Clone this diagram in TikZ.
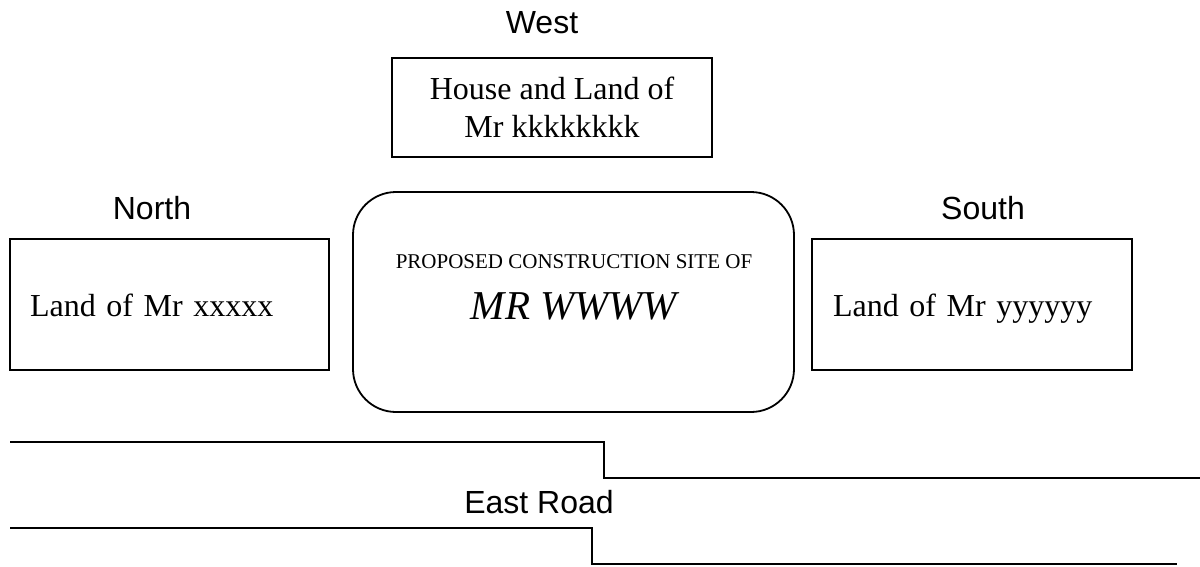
\documentclass[tikz,border=0pt]{standalone}
\usepackage{fontspec}
\setmainfont{Liberation Serif}
\newfontfamily\compassfont{Liberation Sans}
\usetikzlibrary{positioning}
\tikzset
{
	compass/.style = {font=\compassfont\fontsize{32}{38}\selectfont, inner sep=0pt},
	landbox/.style = {rectangle, draw=black, line width=1.8pt, align=left, inner ysep=0pt, text height=23pt, text depth=0pt, font=\fontsize{32}{38}\selectfont},
	housebox/.style = {rectangle, draw=black, line width=1.8pt, align=center, minimum width=320pt, minimum height=99pt, font=\fontsize{32}{38}\selectfont},
	sitebox/.style = {rectangle, draw=black, line width=1.8pt, rounded corners=43pt, minimum width=441pt, minimum height=220pt},
	road/.style = {draw=black, line width=1.8pt}
}

\begin{document}
\begin{tikzpicture}[x=1pt, y=-1pt]
\useasboundingbox (0,0) rectangle (1200,566);
% compass labels
\node[compass] (west) at (542,23) {West};
\node[compass] (north) at (152,208) {North};
\node[compass] (south) at (983,208) {South};
% plots around the site
\node[housebox] (house) at (552,107.5) {House and Land of\\Mr kkkkkkkk};
\node[landbox, text width=279pt, inner xsep=20pt, minimum height=131pt] (northland) at (169.5,304.5) {Land of Mr xxxxx};
\node[landbox, text width=278pt, inner xsep=21pt, minimum height=131pt] (southland) at (972,304.5) {Land of Mr yyyyyy};
\node[sitebox] (site) at (573.5,302) {};
\node[font=\fontsize{21}{25}\selectfont, inner sep=0pt] (sitehead) at (574,262) {PROPOSED CONSTRUCTION SITE OF};
\node[font=\itshape\fontsize{41}{48}\selectfont, inner sep=0pt, below=23pt of sitehead] (siteowner) {MR WWWW};
% the road
\coordinate (roadA) at (10,442);
\coordinate (roadB) at (604,442);
\coordinate (roadC) at (604,478);
\coordinate (roadD) at (1200,478);
\draw[road] (roadA) -- (roadB) -- (roadC) -- (roadD);
\coordinate (roadE) at (10,528);
\coordinate (roadF) at (592,528);
\coordinate (roadG) at (592,564);
\coordinate (roadH) at (1177,564);
\draw[road] (roadE) -- (roadF) -- (roadG) -- (roadH);
\node[compass] (road) at (539,502) {East Road};
\end{tikzpicture}
\end{document}
